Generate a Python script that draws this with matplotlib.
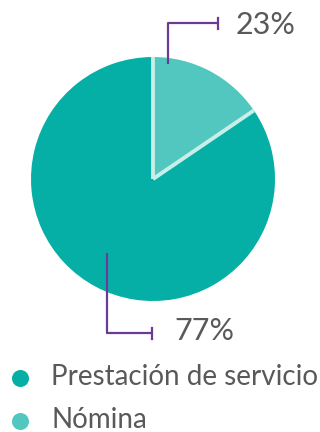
import matplotlib
matplotlib.use("Agg")
import matplotlib.pyplot as plt
import numpy as np

# data
categories = ["Prestación de servicio", "Nómina"]
shares = [84.5, 15.5]          # drawn wedge sizes
pct_labels = ["77%", "23%"]
colors = ["#06AFA5", "#52C7C0"]

W, H = 320, 432
fig = plt.figure(figsize=(W / 100, H / 100), dpi=100)
ax = fig.add_axes([0, 0, 1, 1])
ax.set_xlim(0, W)
ax.set_ylim(0, H)
ax.set_aspect("equal")
ax.axis("off")

def Y(y):
    return H - y

cx, cy, r = 153, 179, 122
wedges, _ = ax.pie(shares, colors=colors, startangle=90, counterclock=True,
                   center=(cx, Y(cy)), radius=r,
                   wedgeprops=dict(edgecolor="none", linewidth=0))
# light separators on the radial edges only
for w in wedges:
    a = np.deg2rad(w.theta1)
    ax.plot([cx, cx + r * np.cos(a)], [Y(cy), Y(cy) + r * np.sin(a)],
            color="#c8eeea", lw=2.8, solid_capstyle="butt", zorder=3)
ax.set_xlim(0, W)
ax.set_ylim(0, H)

purple = "#6B3A96"
txt = "#595959"
font = "Lato"

# callout for Nómina (top)
ax.plot([168, 168, 218], [Y(64), Y(23), Y(23)], color=purple, lw=1.6, solid_capstyle="butt")
ax.plot([218, 218], [Y(17.5), Y(29)], color=purple, lw=1.6)
ax.text(236, Y(25), pct_labels[1], fontsize=22, color=txt, family=font, va="center", ha="left")

# callout for Prestación (bottom)
ax.plot([107, 107, 152], [Y(253), Y(333), Y(333)], color=purple, lw=1.6, solid_capstyle="butt")
ax.plot([152, 152], [Y(327.5), Y(339)], color=purple, lw=1.6)
ax.text(174, Y(331), pct_labels[0], fontsize=22, color=txt, family=font, va="center", ha="left")

# legend
for i, (name, c) in enumerate(zip(categories, colors)):
    yy = 378 + i * 43
    ax.scatter([20], [Y(yy)], s=150, color=c, linewidths=0)
    ax.text(51, Y(yy - 1), name, fontsize=20, color=txt, family=font, va="center", ha="left")

fig.savefig("out.png", dpi=100)
